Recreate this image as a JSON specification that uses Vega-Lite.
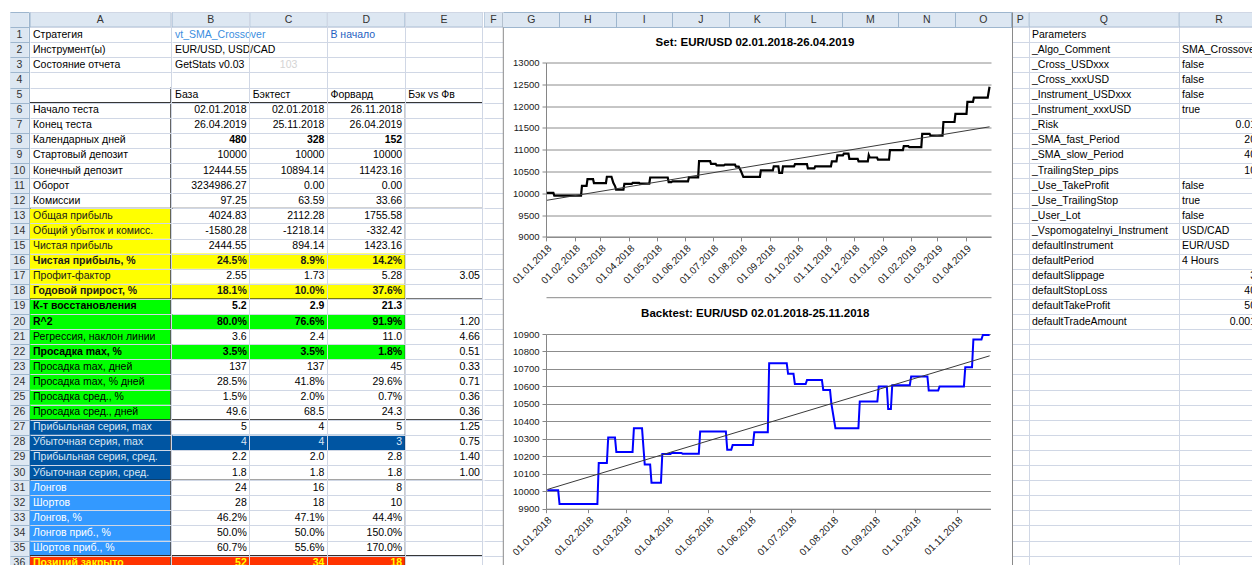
{
"$schema":"https://vega.github.io/schema/vega-lite/v6.json",
"background":"white",
"padding":{"left":10,"top":12,"right":0,"bottom":0},
"spacing":0,
"config":{"view":{"stroke":null},"font":"Liberation Sans","text":{"font":"Liberation Sans","fontSize":10.5,"baseline":"middle"},"title":{"font":"Liberation Sans"},"axis":{"labelFont":"Liberation Sans"},"concat":{"spacing":0}},
"datasets":{
"cols":[{"r":0,"c":"A"},{"r":0,"c":"B"},{"r":0,"c":"C"},{"r":0,"c":"D"},{"r":0,"c":"E"},{"r":0,"c":"F"},{"r":0,"c":"G"},{"r":0,"c":"H"},{"r":0,"c":"I"},{"r":0,"c":"J"},{"r":0,"c":"K"},{"r":0,"c":"L"},{"r":0,"c":"M"},{"r":0,"c":"N"},{"r":0,"c":"O"},{"r":0,"c":"P"},{"r":0,"c":"Q"},{"r":0,"c":"R"}],
"breaks":[{"r":5},{"r":12},{"r":18},{"r":26},{"r":30},{"r":35}],
"rows":[
{"r":1,"a":"Стратегия"},{"r":2,"a":"Инструмент(ы)"},{"r":3,"a":"Состояние отчета"},{"r":4,"a":""},{"r":5,"a":""},
{"r":6,"a":"Начало теста"},{"r":7,"a":"Конец теста"},{"r":8,"a":"Календарных дней","vem":true},{"r":9,"a":"Стартовый депозит"},{"r":10,"a":"Конечный депозит"},{"r":11,"a":"Оборот"},{"r":12,"a":"Комиссии"},
{"r":13,"a":"Общая прибыль","sec":"profit"},{"r":14,"a":"Общий убыток и комисс.","sec":"profit"},{"r":15,"a":"Чистая прибыль","sec":"profit"},{"r":16,"a":"Чистая прибыль, %","sec":"profit","em":true,"hl":true,"vem":true},{"r":17,"a":"Профит-фактор","sec":"profit"},{"r":18,"a":"Годовой прирост, %","sec":"profit","em":true,"hl":true,"vem":true},
{"r":19,"a":"К-т восстановления","sec":"drawdown","em":true,"vem":true},{"r":20,"a":"R^2","sec":"drawdown","em":true,"hl":true,"vem":true},{"r":21,"a":"Регрессия, наклон линии","sec":"drawdown"},{"r":22,"a":"Просадка max, %","sec":"drawdown","em":true,"hl":true,"vem":true},{"r":23,"a":"Просадка max, дней","sec":"drawdown"},{"r":24,"a":"Просадка max, % дней","sec":"drawdown"},{"r":25,"a":"Просадка сред., %","sec":"drawdown"},{"r":26,"a":"Просадка сред., дней","sec":"drawdown"},
{"r":27,"a":"Прибыльная серия, max","sec":"series"},{"r":28,"a":"Убыточная серия, max","sec":"series","hl":true},{"r":29,"a":"Прибыльная серия, сред.","sec":"series"},{"r":30,"a":"Убыточная серия, сред.","sec":"series"},
{"r":31,"a":"Лонгов","sec":"trades"},{"r":32,"a":"Шортов","sec":"trades"},{"r":33,"a":"Лонгов, %","sec":"trades"},{"r":34,"a":"Лонгов приб., %","sec":"trades"},{"r":35,"a":"Шортов приб., %","sec":"trades"},
{"r":36,"a":"Позиций закрыто","sec":"closed","em":true,"hl":true,"vem":true}],
"vals":[
{"r":1,"c":"B","t":"vt_SMA_Crossover"},{"r":1,"c":"D","t":"В начало"},
{"r":2,"c":"B","t":"EUR/USD, USD/CAD"},
{"r":3,"c":"B","t":"GetStats v0.03"},{"r":3,"c":"C","n":"103"},
{"r":5,"c":"B","t":"База"},{"r":5,"c":"C","t":"Бэктест"},{"r":5,"c":"D","t":"Форвард"},{"r":5,"c":"E","t":"Бэк vs Фв"},
{"r":6,"c":"B","n":"02.01.2018"},{"r":6,"c":"C","n":"02.01.2018"},{"r":6,"c":"D","n":"26.11.2018"},
{"r":7,"c":"B","n":"26.04.2019"},{"r":7,"c":"C","n":"25.11.2018"},{"r":7,"c":"D","n":"26.04.2019"},
{"r":8,"c":"B","n":"480"},{"r":8,"c":"C","n":"328"},{"r":8,"c":"D","n":"152"},
{"r":9,"c":"B","n":"10000"},{"r":9,"c":"C","n":"10000"},{"r":9,"c":"D","n":"10000"},
{"r":10,"c":"B","n":"12444.55"},{"r":10,"c":"C","n":"10894.14"},{"r":10,"c":"D","n":"11423.16"},
{"r":11,"c":"B","n":"3234986.27"},{"r":11,"c":"C","n":"0.00"},{"r":11,"c":"D","n":"0.00"},
{"r":12,"c":"B","n":"97.25"},{"r":12,"c":"C","n":"63.59"},{"r":12,"c":"D","n":"33.66"},
{"r":13,"c":"B","n":"4024.83"},{"r":13,"c":"C","n":"2112.28"},{"r":13,"c":"D","n":"1755.58"},
{"r":14,"c":"B","n":"-1580.28"},{"r":14,"c":"C","n":"-1218.14"},{"r":14,"c":"D","n":"-332.42"},
{"r":15,"c":"B","n":"2444.55"},{"r":15,"c":"C","n":"894.14"},{"r":15,"c":"D","n":"1423.16"},
{"r":16,"c":"B","n":"24.5%"},{"r":16,"c":"C","n":"8.9%"},{"r":16,"c":"D","n":"14.2%"},
{"r":17,"c":"B","n":"2.55"},{"r":17,"c":"C","n":"1.73"},{"r":17,"c":"D","n":"5.28"},{"r":17,"c":"E","n":"3.05"},
{"r":18,"c":"B","n":"18.1%"},{"r":18,"c":"C","n":"10.0%"},{"r":18,"c":"D","n":"37.6%"},
{"r":19,"c":"B","n":"5.2"},{"r":19,"c":"C","n":"2.9"},{"r":19,"c":"D","n":"21.3"},
{"r":20,"c":"B","n":"80.0%"},{"r":20,"c":"C","n":"76.6%"},{"r":20,"c":"D","n":"91.9%"},{"r":20,"c":"E","n":"1.20"},
{"r":21,"c":"B","n":"3.6"},{"r":21,"c":"C","n":"2.4"},{"r":21,"c":"D","n":"11.0"},{"r":21,"c":"E","n":"4.66"},
{"r":22,"c":"B","n":"3.5%"},{"r":22,"c":"C","n":"3.5%"},{"r":22,"c":"D","n":"1.8%"},{"r":22,"c":"E","n":"0.51"},
{"r":23,"c":"B","n":"137"},{"r":23,"c":"C","n":"137"},{"r":23,"c":"D","n":"45"},{"r":23,"c":"E","n":"0.33"},
{"r":24,"c":"B","n":"28.5%"},{"r":24,"c":"C","n":"41.8%"},{"r":24,"c":"D","n":"29.6%"},{"r":24,"c":"E","n":"0.71"},
{"r":25,"c":"B","n":"1.5%"},{"r":25,"c":"C","n":"2.0%"},{"r":25,"c":"D","n":"0.7%"},{"r":25,"c":"E","n":"0.36"},
{"r":26,"c":"B","n":"49.6"},{"r":26,"c":"C","n":"68.5"},{"r":26,"c":"D","n":"24.3"},{"r":26,"c":"E","n":"0.36"},
{"r":27,"c":"B","n":"5"},{"r":27,"c":"C","n":"4"},{"r":27,"c":"D","n":"5"},{"r":27,"c":"E","n":"1.25"},
{"r":28,"c":"B","n":"4"},{"r":28,"c":"C","n":"4"},{"r":28,"c":"D","n":"3"},{"r":28,"c":"E","n":"0.75"},
{"r":29,"c":"B","n":"2.2"},{"r":29,"c":"C","n":"2.0"},{"r":29,"c":"D","n":"2.8"},{"r":29,"c":"E","n":"1.40"},
{"r":30,"c":"B","n":"1.8"},{"r":30,"c":"C","n":"1.8"},{"r":30,"c":"D","n":"1.8"},{"r":30,"c":"E","n":"1.00"},
{"r":31,"c":"B","n":"24"},{"r":31,"c":"C","n":"16"},{"r":31,"c":"D","n":"8"},
{"r":32,"c":"B","n":"28"},{"r":32,"c":"C","n":"18"},{"r":32,"c":"D","n":"10"},
{"r":33,"c":"B","n":"46.2%"},{"r":33,"c":"C","n":"47.1%"},{"r":33,"c":"D","n":"44.4%"},
{"r":34,"c":"B","n":"50.0%"},{"r":34,"c":"C","n":"50.0%"},{"r":34,"c":"D","n":"150.0%"},
{"r":35,"c":"B","n":"60.7%"},{"r":35,"c":"C","n":"55.6%"},{"r":35,"c":"D","n":"170.0%"},
{"r":36,"c":"B","n":"52"},{"r":36,"c":"C","n":"34"},{"r":36,"c":"D","n":"18"}],
"params":[
{"r":1,"q":"Parameters"},{"r":2,"q":"_Algo_Comment","t":"SMA_Crossover"},{"r":3,"q":"_Cross_USDxxx","t":"false"},{"r":4,"q":"_Cross_xxxUSD","t":"false"},{"r":5,"q":"_Instrument_USDxxx","t":"false"},{"r":6,"q":"_Instrument_xxxUSD","t":"true"},{"r":7,"q":"_Risk","n":"0.01"},{"r":8,"q":"_SMA_fast_Period","n":"20"},{"r":9,"q":"_SMA_slow_Period","n":"40"},{"r":10,"q":"_TrailingStep_pips","n":"10"},{"r":11,"q":"_Use_TakeProfit","t":"false"},{"r":12,"q":"_Use_TrailingStop","t":"true"},{"r":13,"q":"_User_Lot","t":"false"},{"r":14,"q":"_Vspomogatelnyi_Instrument","t":"USD/CAD"},{"r":15,"q":"defaultInstrument","t":"EUR/USD"},{"r":16,"q":"defaultPeriod","t":"4 Hours"},{"r":17,"q":"defaultSlippage","n":"3"},{"r":18,"q":"defaultStopLoss","n":"40"},{"r":19,"q":"defaultTakeProfit","n":"50"},{"r":20,"q":"defaultTradeAmount","n":"0.001"}],
"eq1":[{"d":"2018-01-02","v":10010},{"d":"2018-01-09","v":10010},{"d":"2018-01-10","v":9945},{"d":"2018-02-08","v":9945},{"d":"2018-02-09","v":10172},{"d":"2018-02-14","v":10172},{"d":"2018-02-15","v":10327},{"d":"2018-02-21","v":10327},{"d":"2018-02-22","v":10235},{"d":"2018-03-07","v":10235},{"d":"2018-03-08","v":10380},{"d":"2018-03-13","v":10380},{"d":"2018-03-15","v":10240},{"d":"2018-03-17","v":10160},{"d":"2018-03-18","v":10085},{"d":"2018-03-26","v":10085},{"d":"2018-03-27","v":10215},{"d":"2018-04-04","v":10215},{"d":"2018-04-05","v":10240},{"d":"2018-04-12","v":10240},{"d":"2018-04-13","v":10220},{"d":"2018-04-23","v":10220},{"d":"2018-04-24","v":10362},{"d":"2018-05-13","v":10362},{"d":"2018-05-14","v":10258},{"d":"2018-05-17","v":10258},{"d":"2018-05-18","v":10272},{"d":"2018-06-04","v":10272},{"d":"2018-06-05","v":10366},{"d":"2018-06-15","v":10366},{"d":"2018-06-16","v":10740},{"d":"2018-06-28","v":10740},{"d":"2018-06-29","v":10675},{"d":"2018-07-04","v":10675},{"d":"2018-07-05","v":10642},{"d":"2018-07-13","v":10642},{"d":"2018-07-14","v":10656},{"d":"2018-07-25","v":10656},{"d":"2018-07-26","v":10610},{"d":"2018-07-29","v":10610},{"d":"2018-07-31","v":10530},{"d":"2018-08-03","v":10378},{"d":"2018-08-21","v":10378},{"d":"2018-08-22","v":10525},{"d":"2018-09-04","v":10525},{"d":"2018-09-05","v":10618},{"d":"2018-09-10","v":10618},{"d":"2018-09-11","v":10470},{"d":"2018-09-14","v":10470},{"d":"2018-09-15","v":10618},{"d":"2018-09-27","v":10618},{"d":"2018-09-28","v":10667},{"d":"2018-10-11","v":10667},{"d":"2018-10-12","v":10570},{"d":"2018-10-19","v":10570},{"d":"2018-10-20","v":10618},{"d":"2018-11-06","v":10618},{"d":"2018-11-07","v":10730},{"d":"2018-11-12","v":10730},{"d":"2018-11-13","v":10870},{"d":"2018-11-19","v":10870},{"d":"2018-11-20","v":10908},{"d":"2018-11-25","v":10908},{"d":"2018-11-26","v":10790},{"d":"2018-12-05","v":10790},{"d":"2018-12-06","v":10730},{"d":"2018-12-16","v":10730},{"d":"2018-12-17","v":10874},{"d":"2018-12-18","v":10821},{"d":"2018-12-26","v":10821},{"d":"2018-12-27","v":10772},{"d":"2019-01-08","v":10772},{"d":"2019-01-09","v":10989},{"d":"2019-01-23","v":10989},{"d":"2019-01-24","v":11080},{"d":"2019-01-29","v":11080},{"d":"2019-01-30","v":11057},{"d":"2019-02-12","v":11057},{"d":"2019-02-13","v":11365},{"d":"2019-02-21","v":11365},{"d":"2019-02-22","v":11325},{"d":"2019-03-07","v":11325},{"d":"2019-03-08","v":11635},{"d":"2019-03-20","v":11635},{"d":"2019-03-21","v":11822},{"d":"2019-04-02","v":11822},{"d":"2019-04-03","v":12097},{"d":"2019-04-09","v":12097},{"d":"2019-04-10","v":12193},{"d":"2019-04-25","v":12193},{"d":"2019-04-27","v":12445}],
"tr1":[{"d":"2018-01-02","v":9840},{"d":"2019-04-27","v":11525}],
"eq2":[{"d":"2018-01-02","v":10005},{"d":"2018-01-10","v":10005},{"d":"2018-01-11","v":9927},{"d":"2018-02-08","v":9927},{"d":"2018-02-09","v":10161},{"d":"2018-02-15","v":10161},{"d":"2018-02-16","v":10308},{"d":"2018-02-21","v":10308},{"d":"2018-02-22","v":10225},{"d":"2018-03-06","v":10225},{"d":"2018-03-07","v":10361},{"d":"2018-03-13","v":10361},{"d":"2018-03-14","v":10256},{"d":"2018-03-15","v":10153},{"d":"2018-03-19","v":10153},{"d":"2018-03-20","v":10049},{"d":"2018-03-27","v":10049},{"d":"2018-03-28","v":10213},{"d":"2018-04-03","v":10213},{"d":"2018-04-04","v":10219},{"d":"2018-04-11","v":10219},{"d":"2018-04-12","v":10215},{"d":"2018-04-24","v":10215},{"d":"2018-04-25","v":10342},{"d":"2018-05-14","v":10342},{"d":"2018-05-15","v":10238},{"d":"2018-05-18","v":10238},{"d":"2018-05-19","v":10264},{"d":"2018-06-03","v":10264},{"d":"2018-06-04","v":10337},{"d":"2018-06-14","v":10337},{"d":"2018-06-15","v":10732},{"d":"2018-06-28","v":10732},{"d":"2018-06-29","v":10672},{"d":"2018-07-03","v":10672},{"d":"2018-07-04","v":10614},{"d":"2018-07-12","v":10614},{"d":"2018-07-13","v":10637},{"d":"2018-07-24","v":10637},{"d":"2018-07-25","v":10580},{"d":"2018-07-30","v":10580},{"d":"2018-07-31","v":10501},{"d":"2018-08-03","v":10361},{"d":"2018-08-20","v":10361},{"d":"2018-08-21","v":10514},{"d":"2018-09-03","v":10514},{"d":"2018-09-04","v":10600},{"d":"2018-09-10","v":10600},{"d":"2018-09-11","v":10471},{"d":"2018-09-13","v":10471},{"d":"2018-09-14","v":10607},{"d":"2018-09-27","v":10607},{"d":"2018-09-28","v":10657},{"d":"2018-10-10","v":10657},{"d":"2018-10-11","v":10576},{"d":"2018-10-18","v":10576},{"d":"2018-10-19","v":10600},{"d":"2018-11-06","v":10600},{"d":"2018-11-07","v":10709},{"d":"2018-11-12","v":10709},{"d":"2018-11-13","v":10869},{"d":"2018-11-19","v":10869},{"d":"2018-11-20","v":10894},{"d":"2018-11-25","v":10894}],
"tr2":[{"d":"2018-01-02","v":10010},{"d":"2018-11-25","v":10775}]
},
"hconcat":[
{"width":18.8,"height":558.7,"view":{"fill":"#dde7f2"},"data":{"name":"rows"},
 "mark":{"type":"text","align":"center","color":"#333333"},
 "encoding":{
  "y":{"field":"r","type":"ordinal","scale":{"type":"band","domain":[0,1,2,3,4,5,6,7,8,9,10,11,12,13,14,15,16,17,18,19,20,21,22,23,24,25,26,27,28,29,30,31,32,33,34,35,36],"paddingInner":0,"paddingOuter":0},"axis":{"grid":true,"gridColor":"#9eb6ce","labels":false,"ticks":false,"domain":false,"title":null,"tickBand":"extent"}},
  "x":{"datum":0.5,"type":"quantitative","scale":{"domain":[0,1],"nice":false,"zero":false},"axis":{"values":[1],"grid":true,"gridColor":"#9eb6ce","labels":false,"ticks":false,"domain":false,"title":null}},
  "text":{"field":"r"}}},
{"width":140.5,"height":558.7,
 "encoding":{"y":{"field":"r","type":"ordinal","scale":{"type":"band","domain":[0,1,2,3,4,5,6,7,8,9,10,11,12,13,14,15,16,17,18,19,20,21,22,23,24,25,26,27,28,29,30,31,32,33,34,35,36],"paddingInner":0,"paddingOuter":0},"axis":{"grid":true,"gridColor":"#d0d7e5","labels":false,"ticks":false,"domain":false,"title":null,"tickBand":"extent"}}},
 "layer":[
  {"data":{"name":"cols"},"transform":[{"filter":"datum.c == 'A'"}],"mark":{"type":"rect","fill":"#dde7f2","stroke":"#9eb6ce","strokeWidth":1,"clip":true},
   "encoding":{"x":{"datum":0,"type":"quantitative","scale":{"domain":[0,1],"nice":false,"zero":false},"axis":{"values":[1],"grid":true,"gridColor":"#d0d7e5","labels":false,"ticks":false,"domain":false,"title":null}},"x2":{"datum":1}}},
  {"data":{"name":"cols"},"transform":[{"filter":"datum.c == 'A'"}],"mark":{"type":"text","align":"center","color":"#333333"},
   "encoding":{"x":{"datum":0.5,"type":"quantitative"},"text":{"field":"c"}}},
  {"data":{"name":"rows"},"transform":[{"filter":"isValid(datum.sec)"}],"mark":{"type":"rect","clip":true},
   "encoding":{"x":{"datum":0,"type":"quantitative"},"x2":{"datum":1},"fill":{"field":"sec","type":"nominal","scale":{"domain":["profit","drawdown","series","trades","closed"],"range":["#ffff00","#00ff00","#0055a2","#3399ff","#ff3300"]},"legend":null}}},
  {"data":{"name":"rows"},"transform":[{"filter":"!datum.em"}],"mark":{"type":"text","align":"left","dx":3},
   "encoding":{"x":{"datum":0,"type":"quantitative"},"text":{"field":"a"},"color":{"condition":{"test":"isValid(datum.sec)","field":"sec","type":"nominal","scale":{"domain":["profit","drawdown","series","trades","closed"],"range":["#1a1a1a","#000000","#dbe7f5","#ffffff","#ffff00"]},"legend":null},"value":"#000000"}}},
  {"data":{"name":"rows"},"transform":[{"filter":"datum.em"}],"mark":{"type":"text","align":"left","dx":3,"fontWeight":"bold"},
   "encoding":{"x":{"datum":0,"type":"quantitative"},"text":{"field":"a"},"color":{"condition":{"test":"isValid(datum.sec)","field":"sec","type":"nominal","scale":{"domain":["profit","drawdown","series","trades","closed"],"range":["#1a1a1a","#000000","#dbe7f5","#ffffff","#ffff00"]},"legend":null},"value":"#000000"}}},
  {"data":{"name":"breaks"},"mark":{"type":"rule","color":"#222222","strokeWidth":1},
   "encoding":{"x":{"datum":0,"type":"quantitative"},"x2":{"datum":1},"y":{"field":"r","type":"ordinal","bandPosition":1}}},
  {"data":{"name":"rows"},"transform":[{"filter":"datum.r >= 5"}],"mark":{"type":"tick","orient":"vertical","size":15.1,"thickness":1,"color":"#222222"},
   "encoding":{"x":{"datum":1,"type":"quantitative"}}}
 ]},
{"width":310.9,"height":558.7,
 "resolve":{"scale":{"x":"independent"},"axis":{"x":"independent"}},
 "encoding":{"y":{"field":"r","type":"ordinal","scale":{"type":"band","domain":[0,1,2,3,4,5,6,7,8,9,10,11,12,13,14,15,16,17,18,19,20,21,22,23,24,25,26,27,28,29,30,31,32,33,34,35,36],"paddingInner":0,"paddingOuter":0},"axis":{"grid":true,"gridColor":"#d0d7e5","labels":false,"ticks":false,"domain":false,"title":null,"tickBand":"extent"}}},
 "layer":[
  {"data":{"name":"cols"},"transform":[{"filter":"indexof(['B','C','D','E'], datum.c) >= 0"}],"mark":{"type":"rect","fill":"#dde7f2","stroke":"#9eb6ce","strokeWidth":1,"clip":true},
   "encoding":{"x":{"field":"c","type":"nominal","scale":{"type":"band","domain":["B","C","D","E"],"paddingInner":0,"paddingOuter":0},"axis":{"grid":true,"gridColor":"#d0d7e5","labels":false,"ticks":false,"domain":false,"title":null,"bandPosition":1}}}},
  {"data":{"name":"cols"},"transform":[{"filter":"indexof(['B','C','D','E'], datum.c) >= 0"}],"mark":{"type":"text","align":"center","color":"#333333"},
   "encoding":{"x":{"field":"c","type":"nominal","scale":{"type":"band","domain":["B","C","D","E"],"paddingInner":0,"paddingOuter":0},"axis":null},"text":{"field":"c"}}},
  {"data":{"name":"vals"},"transform":[{"lookup":"r","from":{"data":{"name":"rows"},"key":"r","fields":["sec","hl","vem"]}},{"filter":"datum.hl && datum.c != 'E'"}],"mark":{"type":"rect"},
   "encoding":{"x":{"field":"c","type":"nominal","scale":{"type":"band","domain":["B","C","D","E"],"paddingInner":0,"paddingOuter":0},"axis":null},"fill":{"field":"sec","type":"nominal","scale":{"domain":["profit","drawdown","series","trades","closed"],"range":["#ffff00","#00ff00","#0055a2","#3399ff","#ff3300"]},"legend":null}}},
  {"data":{"name":"vals"},"transform":[{"filter":"isValid(datum.t)"}],"mark":{"type":"text","align":"left","dx":3},
   "encoding":{"x":{"field":"c","type":"nominal","bandPosition":0,"scale":{"type":"band","domain":["B","C","D","E"],"paddingInner":0,"paddingOuter":0},"axis":null},"text":{"field":"t"},
    "color":{"condition":[{"test":"datum.r == 1 && datum.c == 'B'","value":"#3b8ee0"},{"test":"datum.r == 1 && datum.c == 'D'","value":"#1f5fbf"}],"value":"#000000"}}},
  {"data":{"name":"vals"},"transform":[{"lookup":"r","from":{"data":{"name":"rows"},"key":"r","fields":["sec","hl","vem"]}},{"filter":"isValid(datum.n) && !(datum.vem && datum.c != 'E') && !(datum.r == 3 && datum.c == 'C')"}],"mark":{"type":"text","align":"right","dx":-3},
   "encoding":{"x":{"field":"c","type":"nominal","bandPosition":1,"scale":{"type":"band","domain":["B","C","D","E"],"paddingInner":0,"paddingOuter":0},"axis":null},"text":{"field":"n"},
    "color":{"condition":{"test":"datum.hl && datum.c != 'E'","field":"sec","type":"nominal","scale":{"domain":["profit","drawdown","series","trades","closed"],"range":["#1a1a1a","#000000","#ffffff","#ffffff","#ffff00"]},"legend":null},"value":"#000000"}}},
  {"data":{"name":"vals"},"transform":[{"lookup":"r","from":{"data":{"name":"rows"},"key":"r","fields":["sec","hl","vem"]}},{"filter":"isValid(datum.n) && datum.vem && datum.c != 'E'"}],"mark":{"type":"text","align":"right","dx":-3,"fontWeight":"bold"},
   "encoding":{"x":{"field":"c","type":"nominal","bandPosition":1,"scale":{"type":"band","domain":["B","C","D","E"],"paddingInner":0,"paddingOuter":0},"axis":null},"text":{"field":"n"},
    "color":{"condition":{"test":"datum.hl && datum.c != 'E'","field":"sec","type":"nominal","scale":{"domain":["profit","drawdown","series","trades","closed"],"range":["#1a1a1a","#000000","#ffffff","#ffffff","#ffff00"]},"legend":null},"value":"#000000"}}},
  {"data":{"name":"vals"},"transform":[{"filter":"datum.r == 3 && datum.c == 'C'"}],"mark":{"type":"text","align":"center","color":"#d4d4d4"},
   "encoding":{"x":{"field":"c","type":"nominal","scale":{"type":"band","domain":["B","C","D","E"],"paddingInner":0,"paddingOuter":0},"axis":null},"text":{"field":"n"}}},
  {"data":{"name":"breaks"},"mark":{"type":"rule","color":"#222222","strokeWidth":1},
   "encoding":{"x":{"datum":0,"type":"quantitative","scale":{"domain":[0,1],"nice":false,"zero":false},"axis":null},"x2":{"datum":1},"y":{"field":"r","type":"ordinal","bandPosition":1}}},
  {"data":{"name":"rows"},"transform":[{"filter":"datum.r >= 6"}],"mark":{"type":"tick","orient":"vertical","size":15.1,"thickness":1,"color":"#222222"},
   "encoding":{"x":{"datum":0.75,"type":"quantitative","scale":{"domain":[0,1],"nice":false,"zero":false},"axis":null}}}
 ]},
{"width":18.8,"height":558.7,
 "data":{"name":"cols"},"transform":[{"filter":"datum.c == 'F'"}],
 "encoding":{"y":{"field":"r","type":"ordinal","scale":{"type":"band","domain":[0,1,2,3,4,5,6,7,8,9,10,11,12,13,14,15,16,17,18,19,20,21,22,23,24,25,26,27,28,29,30,31,32,33,34,35,36],"paddingInner":0,"paddingOuter":0},"axis":{"orient":"right","grid":true,"gridColor":"#d0d7e5","labels":false,"ticks":false,"domain":true,"domainColor":"#8a8a8a","title":null,"tickBand":"extent"}},
  "x":{"datum":0,"type":"quantitative","scale":{"domain":[0,1],"nice":false,"zero":false},"axis":null}},
 "layer":[
  {"mark":{"type":"rect","fill":"#dde7f2","stroke":"#9eb6ce","strokeWidth":1,"clip":true},"encoding":{"x2":{"datum":1}}},
  {"mark":{"type":"text","align":"center","color":"#333333"},"encoding":{"x":{"datum":0.5,"type":"quantitative"},"text":{"field":"c"}}}
 ]},
{"spacing":8.5,
 "vconcat":[
  {"width":508.5,"height":15.1,
   "data":{"name":"cols"},"transform":[{"filter":"indexof(['G','H','I','J','K','L','M','N','O'], datum.c) >= 0"}],
   "encoding":{
    "x":{"field":"c","type":"nominal","scale":{"type":"band","domain":["G","H","I","J","K","L","M","N","O"],"paddingInner":0,"paddingOuter":0},"axis":{"grid":true,"gridColor":"#9eb6ce","labels":false,"ticks":false,"domain":false,"title":null,"bandPosition":1,"zindex":1}},
    "y":{"field":"r","type":"ordinal","scale":{"type":"band","domain":[0],"paddingInner":0,"paddingOuter":0},"axis":{"grid":true,"gridColor":"#9eb6ce","labels":false,"ticks":false,"domain":false,"title":null,"tickBand":"extent","zindex":1}}},
   "layer":[
    {"mark":{"type":"rect","fill":"#dde7f2"}},
    {"mark":{"type":"text","align":"center","color":"#333333"},"encoding":{"text":{"field":"c"}}}
   ]},
  {"spacing":6,
   "hconcat":[
    {"width":1,"height":1,"data":{"values":[{"k":0}]},"mark":{"type":"text","text":""}},
    {"spacing":10.5,
     "vconcat":[
      {"width":445,"height":174.4,
       "title":{"text":"Set: EUR/USD 02.01.2018-26.04.2019","fontSize":11.5,"fontWeight":"bold","color":"#000000","anchor":"middle","offset":9,"dx":-13.5},
       "resolve":{"axis":{"x":"independent"}},
       "layer":[
        {"data":{"name":"eq1"},"mark":{"type":"line","color":"#000000","strokeWidth":2.2},
         "encoding":{
          "x":{"field":"d","type":"temporal","scale":{"type":"utc","domain":[{"year":2018,"month":1,"date":1,"utc":true},{"year":2019,"month":4,"date":28,"hours":14,"utc":true}],"nice":false},
               "axis":{"orient":"bottom","title":null,"format":"%d.%m.%Y","labelAngle":-45,"tickCount":{"interval":"month","step":1},"labelOverlap":false,"labelFlush":false,"labelBound":false,"labelFontSize":10,"labelColor":"#1a1a1a","domainColor":"#868686","tickColor":"#868686","tickSize":4,"grid":false,"labelPadding":2}},
          "y":{"field":"v","type":"quantitative","scale":{"domain":[9000,13000],"zero":false,"nice":false},
               "axis":{"title":null,"format":"d","values":[9000,9500,10000,10500,11000,11500,12000,12500,13000],"tickCount":40,"labelOverlap":false,"grid":true,"gridColor":"#8c8c8c","domainColor":"#868686","tickColor":"#868686","tickSize":4,"labelFontSize":9.5,"labelColor":"#1a1a1a","labelPadding":3}}}},
        {"data":{"name":"tr1"},"mark":{"type":"line","color":"#3a3a3a","strokeWidth":1},
         "encoding":{"x":{"field":"d","type":"temporal","axis":{"orient":"bottom","offset":60.3,"labels":false,"ticks":false,"domain":true,"domainColor":"#8a8a8a","grid":false,"title":null}},"y":{"field":"v","type":"quantitative"}}}
       ]},
      {"width":444.4,"height":174.7,
       "title":{"text":"Backtest: EUR/USD 02.01.2018-25.11.2018","fontSize":11.5,"fontWeight":"bold","color":"#000000","anchor":"middle","offset":9.5,"dx":-13},
       "layer":[
        {"data":{"name":"eq2"},"mark":{"type":"line","color":"#0000ff","strokeWidth":2},
         "encoding":{
          "x":{"field":"d","type":"temporal","scale":{"type":"utc","domain":[{"year":2018,"month":1,"date":1,"utc":true},{"year":2018,"month":11,"date":25,"hours":14,"utc":true}],"nice":false},
               "axis":{"title":null,"format":"%d.%m.%Y","labelAngle":-45,"tickCount":{"interval":"month","step":1},"labelOverlap":false,"labelFlush":false,"labelBound":false,"labelFontSize":10,"labelColor":"#1a1a1a","domainColor":"#868686","tickColor":"#868686","tickSize":4,"grid":false,"labelPadding":2}},
          "y":{"field":"v","type":"quantitative","scale":{"domain":[9900,10900],"zero":false,"nice":false},
               "axis":{"title":null,"format":"d","values":[9900,10000,10100,10200,10300,10400,10500,10600,10700,10800,10900],"tickCount":40,"labelOverlap":false,"grid":true,"gridColor":"#8c8c8c","domainColor":"#868686","tickColor":"#868686","tickSize":4,"labelFontSize":9.5,"labelColor":"#1a1a1a","labelPadding":3}}}},
        {"data":{"name":"tr2"},"mark":{"type":"line","color":"#3a3a3a","strokeWidth":1},
         "encoding":{"x":{"field":"d","type":"temporal"},"y":{"field":"v","type":"quantitative"}}}
       ]}
     ]}
   ]}
 ]},
{"width":16.5,"height":558.7,
 "data":{"name":"cols"},"transform":[{"filter":"datum.c == 'P'"}],
 "encoding":{"y":{"field":"r","type":"ordinal","scale":{"type":"band","domain":[0,1,2,3,4,5,6,7,8,9,10,11,12,13,14,15,16,17,18,19,20,21,22,23,24,25,26,27,28,29,30,31,32,33,34,35,36],"paddingInner":0,"paddingOuter":0},"axis":{"orient":"left","grid":true,"gridColor":"#d0d7e5","labels":false,"ticks":false,"domain":true,"domainColor":"#8a8a8a","title":null,"tickBand":"extent"}},
  "x":{"datum":0,"type":"quantitative","scale":{"domain":[0,1],"nice":false,"zero":false},"axis":{"values":[1],"grid":true,"gridColor":"#d0d7e5","labels":false,"ticks":false,"domain":false,"title":null}}},
 "layer":[
  {"mark":{"type":"rect","fill":"#dde7f2","stroke":"#9eb6ce","strokeWidth":1,"clip":true},"encoding":{"x2":{"datum":1}}},
  {"mark":{"type":"text","align":"center","color":"#333333"},"encoding":{"x":{"datum":0.5,"type":"quantitative"},"text":{"field":"c"}}}
 ]},
{"width":149.5,"height":558.7,
 "encoding":{"y":{"field":"r","type":"ordinal","scale":{"type":"band","domain":[0,1,2,3,4,5,6,7,8,9,10,11,12,13,14,15,16,17,18,19,20,21,22,23,24,25,26,27,28,29,30,31,32,33,34,35,36],"paddingInner":0,"paddingOuter":0},"axis":{"grid":true,"gridColor":"#d0d7e5","labels":false,"ticks":false,"domain":false,"title":null,"tickBand":"extent"}}},
 "layer":[
  {"data":{"name":"cols"},"transform":[{"filter":"datum.c == 'Q'"}],"mark":{"type":"rect","fill":"#dde7f2","stroke":"#9eb6ce","strokeWidth":1,"clip":true},
   "encoding":{"x":{"datum":0,"type":"quantitative","scale":{"domain":[0,1],"nice":false,"zero":false},"axis":{"values":[1],"grid":true,"gridColor":"#d0d7e5","labels":false,"ticks":false,"domain":false,"title":null}},"x2":{"datum":1}}},
  {"data":{"name":"cols"},"transform":[{"filter":"datum.c == 'Q'"}],"mark":{"type":"text","align":"center","color":"#333333"},
   "encoding":{"x":{"datum":0.5,"type":"quantitative"},"text":{"field":"c"}}},
  {"data":{"name":"params"},"mark":{"type":"text","align":"left","dx":3},
   "encoding":{"x":{"datum":0,"type":"quantitative"},"text":{"field":"q"}}}
 ]},
{"width":80,"height":558.7,
 "encoding":{"y":{"field":"r","type":"ordinal","scale":{"type":"band","domain":[0,1,2,3,4,5,6,7,8,9,10,11,12,13,14,15,16,17,18,19,20,21,22,23,24,25,26,27,28,29,30,31,32,33,34,35,36],"paddingInner":0,"paddingOuter":0},"axis":{"grid":true,"gridColor":"#d0d7e5","labels":false,"ticks":false,"domain":false,"title":null,"tickBand":"extent"}}},
 "layer":[
  {"data":{"name":"cols"},"transform":[{"filter":"datum.c == 'R'"}],"mark":{"type":"rect","fill":"#dde7f2","stroke":"#9eb6ce","strokeWidth":1,"clip":true},
   "encoding":{"x":{"datum":0,"type":"quantitative","scale":{"domain":[0,1],"nice":false,"zero":false},"axis":null},"x2":{"datum":1}}},
  {"data":{"name":"cols"},"transform":[{"filter":"datum.c == 'R'"}],"mark":{"type":"text","align":"center","color":"#333333"},
   "encoding":{"x":{"datum":0.5,"type":"quantitative"},"text":{"field":"c"}}},
  {"data":{"name":"params"},"transform":[{"filter":"isValid(datum.t)"}],"mark":{"type":"text","align":"left","dx":3},
   "encoding":{"x":{"datum":0,"type":"quantitative"},"text":{"field":"t"}}},
  {"data":{"name":"params"},"transform":[{"filter":"isValid(datum.n)"}],"mark":{"type":"text","align":"right","dx":-3},
   "encoding":{"x":{"datum":1,"type":"quantitative"},"text":{"field":"n"}}}
 ]}
]
}
